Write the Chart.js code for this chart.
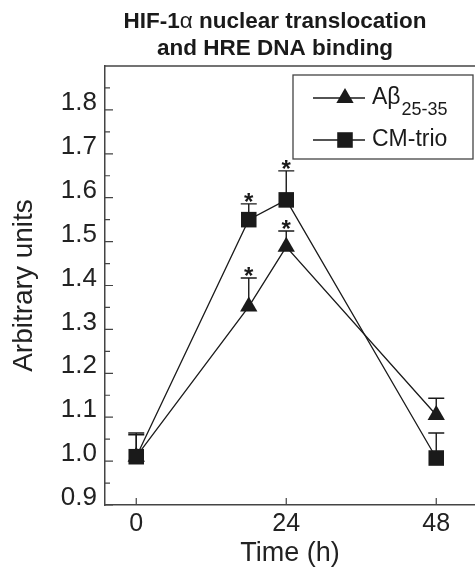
<!DOCTYPE html>
<html>
<head>
<meta charset="utf-8">
<script src="https://cdn.jsdelivr.net/npm/chart.js@4.4.1/dist/chart.umd.min.js"></script>
<style>
  html, body { margin: 0; padding: 0; background: #fff; }
  #wrap { width: 475px; height: 572px; }
</style>
</head>
<body>
<div id="wrap"><canvas id="myChart" width="475" height="572"></canvas></div>
<script>
// HIF-1α nuclear translocation / HRE DNA binding time course
const hours = [0, 18, 24, 48];
const abMeans = [1.01, 1.352, 1.488, 1.105];
const abErrors = [0.05, 0.065, 0.036, 0.038];
const abSignif = [false, true, true, false];
const cmMeans = [1.01, 1.55, 1.595, 1.007];
const cmErrors = [0.054, 0.036, 0.066, 0.057];
const cmSignif = [false, true, true, false];
const xTicks = [0, 24, 48];
const yTicks = [0.9, 1.0, 1.1, 1.2, 1.3, 1.4, 1.5, 1.6, 1.7, 1.8];
const legendNames = ['Aβ', 'CM-trio'];
const legendSubs = ['25-35', ''];
const titleLines = [['HIF-1', 'α', ' nuclear translocation'], ['and HRE DNA binding']];

const FONT = '"Liberation Sans", Arial, sans-serif';
const INK = '#1a1a1a';
const AXIS = '#444';

const titlePlugin = {
    id: 'twoLineTitle',
    afterDraw(chart) {
        const { ctx } = chart;
        const cx = 275;
        const baselines = [28, 55];
        ctx.save();
        ctx.fillStyle = INK;
        ctx.textBaseline = 'alphabetic';
        ctx.textAlign = 'left';
        titleLines.forEach((parts, li) => {
            const fonts = parts.map(p => p === 'α' ? '22.5px ' + FONT : 'bold 22.5px ' + FONT);
            let total = 0;
            parts.forEach((p, i) => { ctx.font = fonts[i]; total += ctx.measureText(p).width; });
            let x = cx - total / 2;
            parts.forEach((p, i) => {
                ctx.font = fonts[i];
                ctx.fillText(p, x, baselines[li]);
                x += ctx.measureText(p).width;
            });
        });
        ctx.restore();
    }
};

const errorBarPlugin = {
    id: 'errorBars',
    beforeDatasetsDraw(chart) {
        const { ctx, scales: { x, y } } = chart;
        const sets = [[abMeans, abErrors], [cmMeans, cmErrors]];
        ctx.save();
        ctx.strokeStyle = INK;
        ctx.lineWidth = 1.4;
        sets.forEach(([means, errs]) => {
            hours.forEach((h, i) => {
                const px = x.getPixelForValue(h);
                const y0 = y.getPixelForValue(means[i]);
                const y1 = y.getPixelForValue(means[i] + errs[i]);
                ctx.beginPath();
                ctx.moveTo(px, y0); ctx.lineTo(px, y1);
                ctx.moveTo(px - 8, y1); ctx.lineTo(px + 8, y1);
                ctx.stroke();
            });
        });
        ctx.restore();
    },
    afterDatasetsDraw(chart) {
        const { ctx, scales: { x, y } } = chart;
        const sets = [[abMeans, abErrors, abSignif], [cmMeans, cmErrors, cmSignif]];
        ctx.save();
        ctx.fillStyle = INK;
        ctx.font = 'bold 24px ' + FONT;
        ctx.textAlign = 'center';
        ctx.textBaseline = 'alphabetic';
        sets.forEach(([means, errs, sig]) => {
            hours.forEach((h, i) => {
                if (!sig[i]) return;
                const px = x.getPixelForValue(h);
                const y1 = y.getPixelForValue(means[i] + errs[i]);
                ctx.fillText('*', px, y1 + 6);
            });
        });
        ctx.restore();
    }
};

const frameTicksPlugin = {
    id: 'frameTicks',
    afterDraw(chart) {
        const { ctx, chartArea: { left, right, top, bottom }, scales: { x, y } } = chart;
        ctx.save();
        ctx.strokeStyle = AXIS;
        ctx.lineWidth = 1.5;
        ctx.beginPath();
        ctx.moveTo(left, top); ctx.lineTo(right, top);
        ctx.stroke();
        ctx.lineWidth = 1.2;
        ctx.beginPath();
        yTicks.forEach(v => {
            const py = y.getPixelForValue(v);
            ctx.moveTo(left, py); ctx.lineTo(left + 8, py);
            const pm = y.getPixelForValue(v + 0.05);
            ctx.moveTo(left, pm); ctx.lineTo(left + 5, pm);
        });
        xTicks.forEach(v => {
            const px = x.getPixelForValue(v);
            ctx.moveTo(px, bottom); ctx.lineTo(px, bottom - 7);
        });
        ctx.stroke();
        ctx.restore();
    }
};

const legendPlugin = {
    id: 'boxLegend',
    afterDraw(chart) {
        const { ctx, chartArea: { right, top } } = chart;
        const bx = right - 182, by = top + 9, bw = 180, bh = 84;
        ctx.save();
        ctx.strokeStyle = AXIS;
        ctx.lineWidth = 1.3;
        ctx.strokeRect(bx, by, bw, bh);
        const rows = [by + 23, by + 65];
        const styles = ['triangle', 'rect'];
        const radii = [10, 11];
        rows.forEach((ry, i) => {
            ctx.strokeStyle = INK;
            ctx.lineWidth = 1.3;
            ctx.beginPath();
            ctx.moveTo(bx + 20, ry); ctx.lineTo(bx + 72, ry);
            ctx.stroke();
            ctx.fillStyle = INK;
            Chart.helpers.drawPoint(ctx, { pointStyle: styles[i], radius: radii[i], borderWidth: 0 }, bx + 52, ry);
            ctx.fillStyle = INK;
            ctx.textAlign = 'left';
            ctx.textBaseline = 'alphabetic';
            ctx.font = '23px ' + FONT;
            ctx.fillText(legendNames[i], bx + 79, ry + 6);
            if (legendSubs[i]) {
                const w = ctx.measureText(legendNames[i]).width;
                ctx.font = '18px ' + FONT;
                ctx.fillText(legendSubs[i], bx + 80 + w, ry + 17);
            }
        });
        ctx.restore();
    }
};

document.addEventListener('DOMContentLoaded', () => {
    new Chart(document.getElementById('myChart'), {
        type: 'scatter',
        data: {
            datasets: [
                {
                    label: legendNames[0],
                    data: hours.map((h, i) => ({ x: h, y: abMeans[i] })),
                    showLine: true,
                    borderColor: INK,
                    borderWidth: 1.3,
                    backgroundColor: INK,
                    pointStyle: 'triangle',
                    pointRadius: 10,
                    pointBorderWidth: 0,
                    order: 2
                },
                {
                    label: legendNames[1],
                    data: hours.map((h, i) => ({ x: h, y: cmMeans[i] })),
                    showLine: true,
                    borderColor: INK,
                    borderWidth: 1.3,
                    backgroundColor: INK,
                    pointStyle: 'rect',
                    pointRadius: 11,
                    pointBorderWidth: 0,
                    order: 1
                }
            ]
        },
        options: {
            responsive: false,
            animation: false,
            layout: { autoPadding: false, padding: { top: 66, right: 0, left: 0, bottom: 0 } },
            scales: {
                x: {
                    type: 'linear',
                    min: -5, max: 54.2,
                    afterFit(s) { s.height = 67; s.paddingLeft = 0; s.paddingRight = 0; },
                    afterBuildTicks(s) { s.ticks = xTicks.map(v => ({ value: v })); },
                    grid: { display: false, drawTicks: false },
                    border: { display: true, color: AXIS, width: 1.5 },
                    ticks: { color: '#222', padding: 4, font: { family: FONT, size: 25 } },
                    title: { display: true, text: 'Time (h)', color: '#222',
                             padding: { top: 0, bottom: 2 }, font: { family: FONT, size: 27 } }
                },
                y: {
                    min: 0.9, max: 1.9,
                    afterFit(s) { s.width = 105; s.paddingTop = 0; s.paddingBottom = 0; },
                    afterBuildTicks(s) { s.ticks = yTicks.map(v => ({ value: v })); },
                    grid: { display: false, drawTicks: false },
                    border: { display: true, color: AXIS, width: 1.5 },
                    ticks: { color: '#222', padding: 8, labelOffset: -7,
                             font: { family: FONT, size: 26 }, callback: v => v.toFixed(1) },
                    title: { display: true, text: 'Arbitrary units', color: '#222',
                             padding: { top: 7, bottom: 0 }, font: { family: FONT, size: 28 } }
                }
            },
            plugins: { legend: { display: false }, tooltip: { enabled: false } }
        },
        plugins: [titlePlugin, errorBarPlugin, frameTicksPlugin, legendPlugin]
    });
});
</script>
</body>
</html>
